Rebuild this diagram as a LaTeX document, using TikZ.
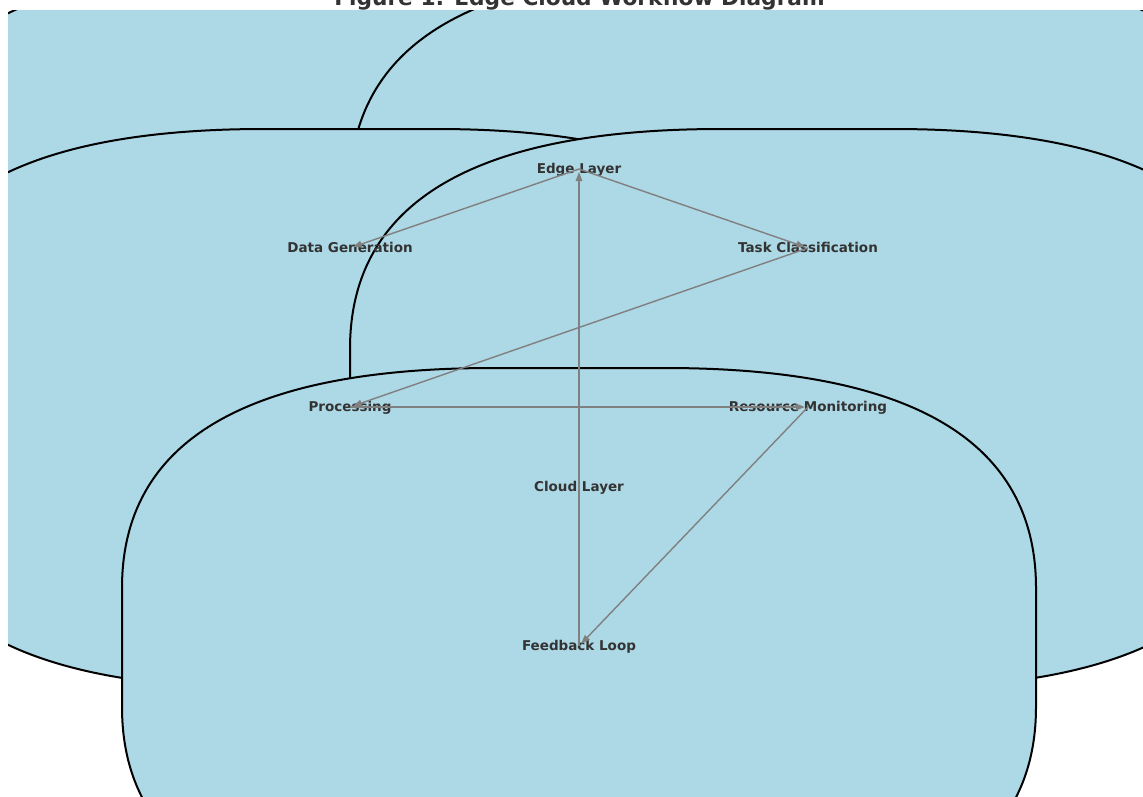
\documentclass[tikz,border=0pt]{standalone}
\usepackage{fontspec}
\setmainfont{DejaVu Sans}
\usetikzlibrary{arrows.meta}
\definecolor{boxblue}{HTML}{ADD8E6}
\definecolor{labelgray}{HTML}{333333}

\begin{document}
\begin{tikzpicture}[x=1pt,y=-1pt]
\tikzset{layerbox/.style={fill=boxblue, draw=black, line width=2pt},
  flow/.style={draw=gray, line width=1.4pt, -{Triangle[length=9pt,width=6.5pt]}, shorten >=3pt},
  lbl/.style={font=\bfseries\fontsize{13.5}{16}\selectfont, text=labelgray, inner sep=0pt,
    text height=8pt, text depth=0pt}}
\useasboundingbox (0,0) rectangle (1143,796);
\node[font=\bfseries\fontsize{21.7}{24}\selectfont, text=labelgray, anchor=base, inner sep=0pt]
  (title) at (579.5,5.5) {Figure 1: Edge Cloud Workflow Diagram};
\begin{scope}
\clip (8,10) rectangle (1150,800);
\foreach \cx/\cy in {350/249.5, 807/249.5, 350/408.5, 807/408.5, 579/647.5} {
  \pgfmathsetmacro\boxL{\cx-457}
  \pgfmathsetmacro\boxR{\cx+457}
  \pgfmathsetmacro\boxT{\cy-279.5}
  \pgfmathsetmacro\boxB{\cy+279.5}
  \draw[layerbox] ({\boxL+371},\boxT) -- ({\boxR-371},\boxT)
    .. controls ({\boxR-123.67},\boxT) and (\boxR,{\boxT+73.33}) .. (\boxR,{\boxT+220})
    -- (\boxR,{\boxB-220})
    .. controls (\boxR,{\boxB-73.33}) and ({\boxR-123.67},\boxB) .. ({\boxR-371},\boxB)
    -- ({\boxL+371},\boxB)
    .. controls ({\boxL+123.67},\boxB) and (\boxL,{\boxB-73.33}) .. (\boxL,{\boxB-220})
    -- (\boxL,{\boxT+220})
    .. controls (\boxL,{\boxT+73.33}) and ({\boxL+123.67},\boxT) .. ({\boxL+371},\boxT) -- cycle;
}
\end{scope}
\node[lbl] (edge) at (579,169) {Edge Layer};
\node[lbl] (datagen) at (350,248) {Data Generation};
\node[lbl] (taskclass) at (808,248) {Task Classification};
\node[lbl] (proc) at (350,407) {Processing};
\node[lbl] (resmon) at (808,407) {Resource Monitoring};
\node[lbl] (cloud) at (579,487) {Cloud Layer};
\node[lbl] (feedback) at (579,646) {Feedback Loop};
\draw[flow] (edge.center) -- (datagen.center);
\draw[flow] (edge.center) -- (taskclass.center);
\draw[flow] (taskclass.center) -- (proc.center);
\draw[flow] (proc.center) -- (resmon.center);
\draw[flow] (resmon.center) -- (feedback.center);
\draw[flow] (feedback.center) -- (edge.center);
\end{tikzpicture}
\end{document}
